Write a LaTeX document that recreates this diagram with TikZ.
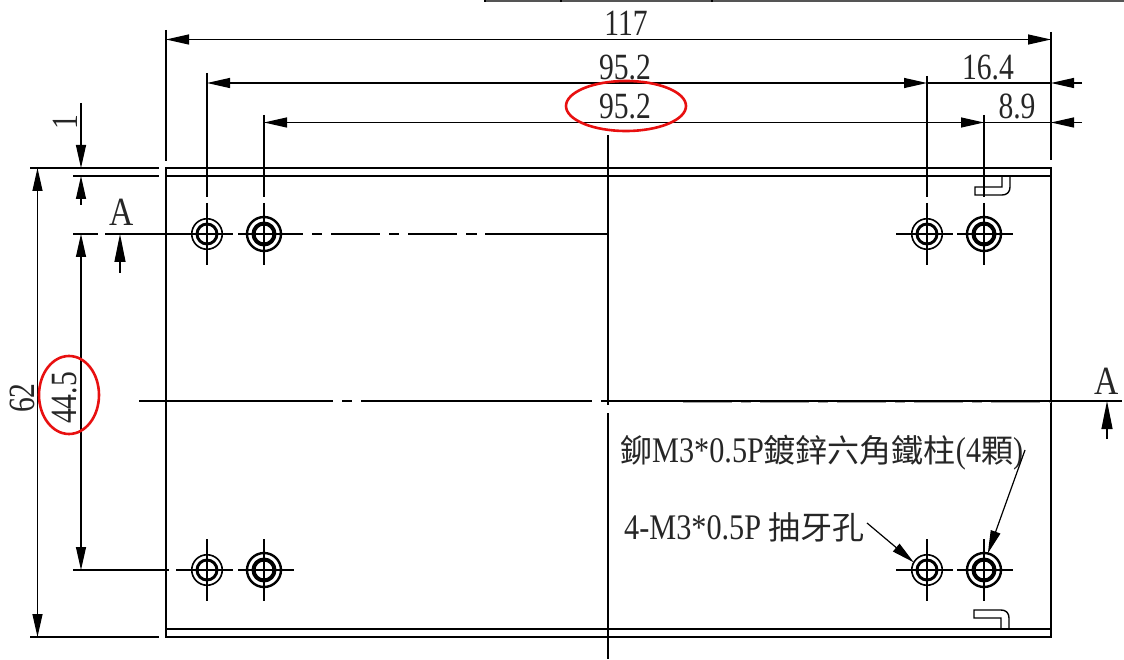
\documentclass[tikz,border=0pt]{standalone}
\usepackage{fontspec}
\usetikzlibrary{arrows.meta,shapes.geometric}
\newfontfamily\dimfont[FakeStretch=0.8]{Liberation Serif}
\newfontfamily\notefont[FakeStretch=0.84]{Liberation Serif}
\newfontfamily\cjkfont{Noto Sans CJK TC}
\newcommand{\cjktext}[1]{{\cjkfont\fontsize{32pt}{34pt}\selectfont #1}}
\definecolor{redmark}{RGB}{232,16,16}
\definecolor{topgray}{RGB}{85,85,85}
\tikzset{
  thinl/.style={line width=1.2pt,black},
  edgel/.style={line width=2.1pt,black},
  sectl/.style={line width=2.6pt,black,line cap=rect},
  dimarrow/.style={thinl,-{Triangle[length=23pt,width=10pt]}},
  dimboth/.style={thinl,{Triangle[length=23pt,width=10pt]}-{Triangle[length=23pt,width=10pt]}},
  secarrow/.style={thinl,-{Triangle[length=28pt,width=11pt]}},
  dimlabel/.style={font=\dimfont\fontsize{37pt}{39pt}\selectfont,text=black!85,inner sep=0pt},
  seclabel/.style={font=\notefont\fontsize{40pt}{42pt}\selectfont,text=black!85,inner sep=0pt},
  notelabel/.style={font=\notefont\fontsize{36pt}{38pt}\selectfont,text=black!85,inner sep=0pt},
  redring/.style={draw=redmark,line width=2.6pt,ellipse,inner sep=0pt,outer sep=0pt},
  smallouter/.style={circle,draw,line width=1.6pt,minimum size=30.5pt,inner sep=0pt,outer sep=0pt},
  smallinner/.style={circle,draw,line width=2.9pt,minimum size=20pt,inner sep=0pt,outer sep=0pt},
  largeouter/.style={circle,draw,line width=2.4pt,minimum size=34pt,inner sep=0pt,outer sep=0pt},
  largeinner/.style={circle,draw,line width=4pt,minimum size=21pt,inner sep=0pt,outer sep=0pt},
}
\begin{document}
\begin{tikzpicture}[x=1pt,y=-1pt]
\useasboundingbox (0,0) rectangle (1124,660);
% top strip
\coordinate (tl) at (485,0.8); \coordinate (tr) at (1124,0.8);
\draw[line width=1.8pt,topgray] (tl) -- (tr);
\foreach \x in {485,561,712} \draw[line width=1.5pt,black] (\x,0) -- (\x,2.5);

% plate
\coordinate (ptl) at (166,168); \coordinate (ptr) at (1051,168);
\coordinate (pil) at (166,176); \coordinate (pir) at (1051,176);
\coordinate (pbl) at (166,637); \coordinate (pbr) at (1051,637);
\coordinate (qbl) at (166,629); \coordinate (qbr) at (1051,629);
\draw[edgel] (pbl) -- (ptl) -- (ptr) -- (pbr) -- cycle;
\draw[line width=1.6pt] (pil) -- (pir);
\draw[line width=1.6pt] (qbl) -- (qbr);

% hooks
\draw[line width=1.4pt] (1002,176) -- (1002,187) -- (975,187) -- (975,195) -- (1002,195) .. controls (1007,195) and (1010,192) .. (1010,187) -- (1010,176);
\draw[line width=1.4pt] (1001,629) -- (1001,618) -- (974,618) -- (974,610) -- (1001,610) .. controls (1006,610) and (1009,613) .. (1009,618) -- (1009,629);

% extension lines
\coordinate (e1a) at (30,168); \coordinate (e1b) at (159,168);
\coordinate (e2a) at (73,176); \coordinate (e2b) at (159,176);
\coordinate (e3a) at (30,637); \coordinate (e3b) at (159,637);
\coordinate (e4a) at (73,570); \coordinate (e4b) at (169,570);
\draw[line width=1.5pt] (e1a) -- (e1b);
\draw[thinl] (e2a) -- (e2b);
\draw[line width=1.5pt] (e3a) -- (e3b);
\draw[thinl] (e4a) -- (e4b);
\coordinate (v1a) at (166,30); \coordinate (v1b) at (166,161);
\coordinate (v2a) at (1051,32); \coordinate (v2b) at (1051,160);
\coordinate (v3a) at (207,73); \coordinate (v3b) at (207,197);
\coordinate (v4a) at (927,76); \coordinate (v4b) at (927,197);
\coordinate (v5a) at (264,115); \coordinate (v5b) at (264,197);
\coordinate (v6a) at (984,115); \coordinate (v6b) at (984,197);
\draw[thinl] (v1a) -- (v1b);
\draw[line width=1.5pt] (v2a) -- (v2b);
\draw[thinl] (v3a) -- (v3b);
\draw[line width=1.5pt] (v4a) -- (v4b);
\draw[thinl] (v5a) -- (v5b);
\draw[thinl] (v6a) -- (v6b);

% dimensions, top
\coordinate (d117a) at (166,39.5); \coordinate (d117b) at (1051,39.5);
\draw[dimboth] (d117a) -- (d117b);
\coordinate (d95a) at (207,83); \coordinate (d95b) at (927,83);
\draw[dimboth] (d95a) -- (d95b);
\coordinate (d96a) at (264,122.5); \coordinate (d96b) at (984,122.5);
\draw[dimboth] (d96a) -- (d96b);
\coordinate (d16a) at (927,83); \coordinate (d16b) at (1082,83); \coordinate (d16c) at (1051,83);
\draw[thinl] (d16a) -- (d16c);
\draw[dimarrow] (d16b) -- (d16c);
\coordinate (d89a) at (984,122.5); \coordinate (d89b) at (1082,122.5); \coordinate (d89c) at (1051,122.5);
\draw[thinl] (d89a) -- (d89c);
\draw[dimarrow] (d89b) -- (d89c);

\node[dimlabel] (t117) at (626,23) {117};
\node[dimlabel] (t95a) at (625,67.5) {95.2};
\node[dimlabel] (t95b) at (625,106.5) {95.2};
\node[dimlabel] (t164) at (988,67.5) {16.4};
\node[dimlabel] (t89) at (1017,106.5) {8.9};

% dimensions, left
\coordinate (d1a) at (81,103); \coordinate (d1b) at (81,168);
\coordinate (d1c) at (81,205); \coordinate (d1d) at (81,176);
\draw[dimarrow] (d1a) -- (d1b);
\draw[dimarrow] (d1c) -- (d1d);
\coordinate (d62a) at (37.5,168); \coordinate (d62b) at (37.5,637);
\draw[dimboth] (d62a) -- (d62b);
\coordinate (d44a) at (81,234); \coordinate (d44b) at (81,570);
\draw[dimboth] (d44a) -- (d44b);
\node[dimlabel,rotate=90] (t1) at (65,122) {1};
\node[dimlabel,rotate=90] (t62) at (22,398) {62};
\node[dimlabel,rotate=90] (t44) at (65,398) {44.5};

% section line
\draw[thinl] (73,234) -- (98,234);
\draw[thinl] (105,234) -- (233,234);
\draw[thinl] (238,234) -- (303,234);
\draw[thinl] (312,234) -- (322,234);
\draw[thinl] (331,234) -- (380,234);
\draw[thinl] (389,234) -- (399,234);
\draw[thinl] (408,234) -- (457,234);
\draw[thinl] (466,234) -- (477,234);
\draw[thinl] (485,234) -- (533,234);
\coordinate (seca) at (533,234); \coordinate (secb) at (608,234); \coordinate (secc) at (608,401); \coordinate (secd) at (683,401);
\coordinate (sece) at (1122,401);
\draw[line width=3pt,black!35,dash pattern=on 49pt off 9pt on 10pt off 9pt] (secd) -- (1051,401);
\draw[thinl] (secd) -- (sece);
\draw[thinl] (139,401) -- (333,401);
\draw[thinl] (342,401) -- (352,401);
\draw[thinl] (361,401) -- (592,401);
\draw[thinl] (601,401) -- (608,401);
\coordinate (c1) at (608,135); \coordinate (c2) at (608,234);
\coordinate (c3) at (608,413); \coordinate (c4) at (608,659);
\draw[thinl] (c1) -- (c2);
\draw[thinl] (secc) -- (608,405);
\draw[thinl] (c3) -- (c4);

% section markers
\coordinate (ma) at (120,273); \coordinate (mb) at (120,234);
\draw[secarrow] (ma) -- (mb);
\coordinate (mc) at (1107,439); \coordinate (md) at (1107,401);
\draw[secarrow] (mc) -- (md);
\node[seclabel] (ta1) at (122,212) {A};
\node[seclabel] (ta2) at (1107,381) {A};

% holes
\foreach \n/\x/\y in {1/207/234,2/207/570,3/927/234,4/927/570}{
  \node[smallouter] (hs\n) at (\x,\y) {};
  \node[smallinner] (is\n) at (\x,\y) {};
  \draw[line width=1.1pt] (\x,\y-31) -- (\x,\y+31);
}
\foreach \n/\x/\y in {1/264/234,2/264/570,3/984/234,4/984/570}{
  \node[largeouter] (hl\n) at (\x,\y) {};
  \node[largeinner] (il\n) at (\x,\y) {};
  \draw[line width=1.1pt] (\x,\y-31) -- (\x,\y+31);
}
\draw[thinl] (176,570) -- (233,570);
\draw[thinl] (238,570) -- (294,570);
\draw[thinl] (896,234) -- (953,234);
\draw[thinl] (957,234) -- (1013,234);
\draw[thinl] (896,570) -- (953,570);
\draw[thinl] (957,570) -- (1013,570);

% notes
\node[notelabel,anchor=west] (n1) at (620,453) {\cjktext{鉚}M3*0.5P\cjktext{鍍鋅六角鐵柱}(4\cjktext{顆})};
\node[notelabel,anchor=west] (n2) at (624,527) {4-M3*0.5P \cjktext{抽牙孔}};
\coordinate (l1) at (1025,450);
\coordinate (l2) at (867,523);
\draw[dimarrow] (l1) -- (hl4.77);
\draw[dimarrow] (l2) -- (hs4.150);

% red marks
\node[redring,minimum width=120pt,minimum height=50pt] (r1) at (626,106) {};
\node[redring,minimum width=60pt,minimum height=78pt] (r2) at (69,395) {};

% heavy section path, drawn last
\draw[sectl] (seca) -- (secb);
\draw[sectl] (secb) -- (secc);
\draw[sectl] (secc) -- (secd);
\end{tikzpicture}
\end{document}
